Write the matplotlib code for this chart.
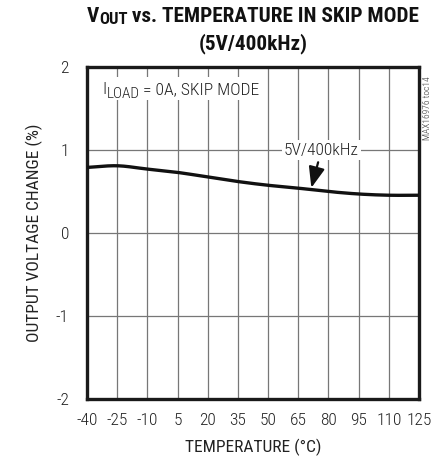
import matplotlib
matplotlib.use("Agg")
import matplotlib.pyplot as plt
from matplotlib.patches import Rectangle
import numpy as np

temps = [-40, -25, -10, 5, 20, 35, 50, 65, 80, 95, 110, 125]
vout_change = [0.79, 0.81, 0.77, 0.73, 0.675, 0.62, 0.575, 0.54, 0.50, 0.47, 0.455, 0.455]
xticks = [-40, -25, -10, 5, 20, 35, 50, 65, 80, 95, 110, 125]
yticks = [-2, -1, 0, 1, 2]

FONT = ['Roboto Condensed', 'DejaVu Sans']
plt.rcParams['font.family'] = FONT
plt.rcParams['font.weight'] = 'light'

TXT = '#222222'
FS = 12.5
W, H = 433, 461

fig = plt.figure(figsize=(W/100, H/100), dpi=100)
ax = fig.add_axes([87/W, 1-399/H, 332/W, 332/H])

ax.set_xlim(-40, 125)
ax.set_ylim(-2, 2)
ax.set_xticks(xticks)
ax.set_yticks(yticks)
ax.set_xticklabels([str(t) for t in xticks])
ax.set_yticklabels([str(t) for t in yticks])
ax.tick_params(length=0, labelsize=FS, colors=TXT)
ax.tick_params(axis='x', pad=10)
ax.tick_params(axis='y', pad=13)
ax.grid(True, color='#777777', linewidth=0.9)
ax.set_axisbelow(True)
for s in ax.spines.values():
    s.set_linewidth(2.4)
    s.set_color('#1a1a1a')

# smooth curve (cubic Hermite) through the read points
t = np.array(temps, float); v = np.array(vout_change, float)
d = np.gradient(v, t)
xs = np.linspace(t[0], t[-1], 400)
k = np.clip(np.searchsorted(t, xs, side='right') - 1, 0, len(t) - 2)
h = t[k+1] - t[k]
s_ = (xs - t[k]) / h
ys = ((2*s_**3 - 3*s_**2 + 1)*v[k] + (s_**3 - 2*s_**2 + s_)*h*d[k]
      + (-2*s_**3 + 3*s_**2)*v[k+1] + (s_**3 - s_**2)*h*d[k+1])
ax.plot(xs, ys, color='#111111', linewidth=2.4, zorder=3)

renderer = fig.canvas.get_renderer()

def sub_text(x_px, y_px, main, sub, rest, fs, sub_fs, drop_px, weight, color, align='left'):
    kw = dict(va='baseline', ha='left', color=color, fontweight=weight, zorder=5)
    t1 = fig.text(0, 0, main, fontsize=fs, **kw)
    t2 = fig.text(0, 0, sub, fontsize=sub_fs, **kw)
    t3 = fig.text(0, 0, rest, fontsize=fs, **kw)
    w1 = t1.get_window_extent(renderer).width
    w2 = t2.get_window_extent(renderer).width
    w3 = t3.get_window_extent(renderer).width
    x0 = x_px - (w1 + w2 + w3) / 2 if align == 'center' else x_px
    t1.set_position((x0 / W, 1 - y_px / H))
    t2.set_position(((x0 + w1) / W, 1 - (y_px + drop_px) / H))
    t3.set_position(((x0 + w1 + w2) / W, 1 - y_px / H))

# label box in upper left
ax.add_patch(Rectangle((-36.5, 1.60), 82.5, 0.28, facecolor='white', edgecolor='none', zorder=1))
sub_text(102, 94, 'I', 'LOAD', ' = 0A, SKIP MODE', 12.6, 11, 4, 'light', TXT)

ax.annotate('5V/400kHz', xy=(71.5, 0.545), xytext=(76.5, 1.0),
            fontsize=FS, ha='center', va='center', color=TXT,
            bbox=dict(facecolor='white', edgecolor='none', pad=1.5),
            arrowprops=dict(arrowstyle='-|>,head_length=0.9,head_width=0.35', color='#111111', lw=1.6,
                            mutation_scale=14, shrinkA=2, shrinkB=0), zorder=4)

ax.set_xlabel('TEMPERATURE (°C)', fontsize=FS, labelpad=8, color=TXT)
ax.set_ylabel('OUTPUT VOLTAGE CHANGE (%)', fontsize=FS, labelpad=9, color=TXT)

sub_text(253, 22, 'V', 'OUT', ' vs. TEMPERATURE IN SKIP MODE', 15.3, 12, 2.5, 'bold', '#111111', align='center')
fig.text(253/W, 1-49/H, '(5V/400kHz)', fontsize=15.3, fontweight='bold',
         ha='center', va='baseline', color='#111111')
fig.text(427/W, 1-108/H, 'MAX16976 toc14', fontsize=6.8, rotation=90,
         ha='center', va='center', color='#333333')

fig.savefig('out.png', dpi=100)
